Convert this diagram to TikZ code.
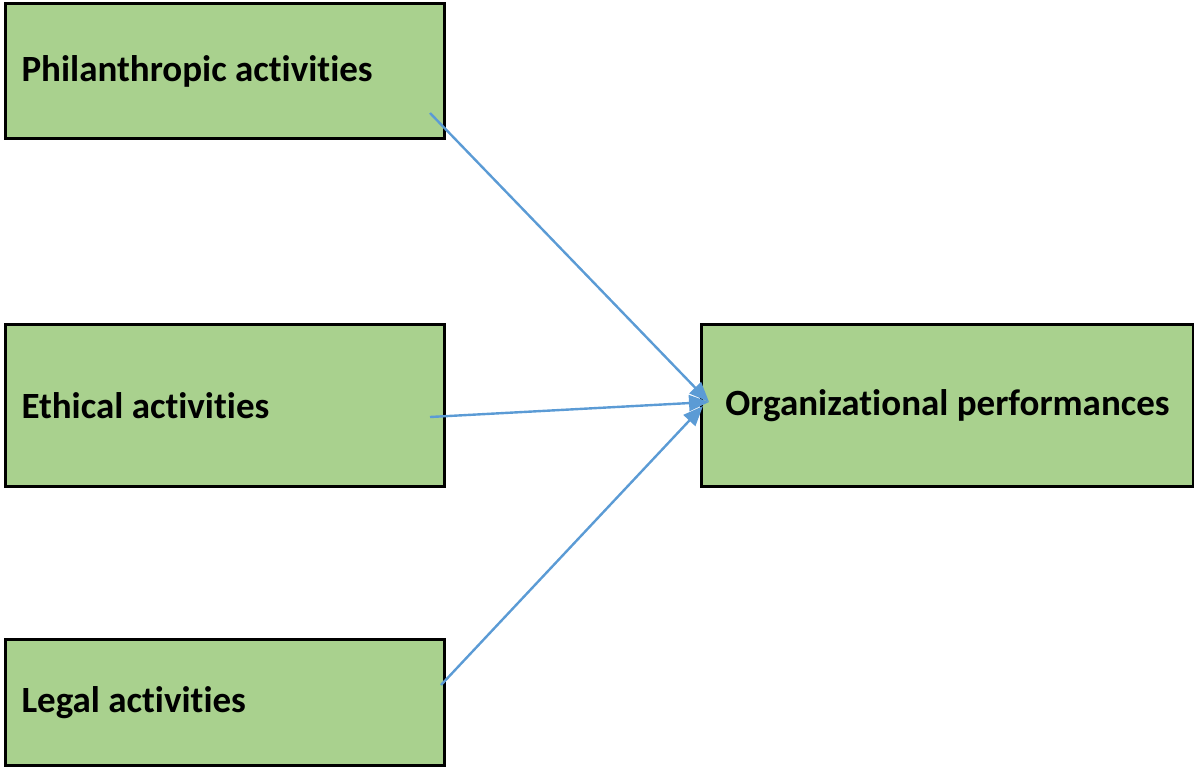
\documentclass[tikz,border=0pt]{standalone}
\usepackage{fontspec}
\setmainfont{Carlito}[Ligatures=NoCommon]
\usetikzlibrary{arrows.meta}
\definecolor{boxgreen}{HTML}{A9D18E}
\definecolor{arrowblue}{HTML}{5B9BD5}
\begin{document}
\begin{tikzpicture}[x=0.5pt, y=-0.5pt, every node/.style={draw=black, fill=boxgreen, line width=1.5pt, font=\fontsize{18.5}{22}\selectfont\bfseries, inner sep=8pt}, cause/.style={anchor=north west, minimum width=219.5pt, text width=203.5pt, align=flush left}, link/.style={draw=arrowblue, line width=1.2pt, -{Triangle[length=10pt, width=8pt]}}]
	\useasboundingbox (0,0) rectangle (1194,766);
	\node[cause, minimum height=67.5pt](phil) at (4,2){Philanthropic activities};
	\node[cause, minimum height=81pt](eth) at (4,323){Ethical activities};
	\node[cause, minimum height=63pt](legal) at (4,638){Legal activities};
	\node[anchor=north west, minimum width=246pt, minimum height=81pt, align=center](org) at (700,323){Organizational performances};
	% arrow ends
	\coordinate(p1) at (430,113);
	\coordinate(e1) at (430,417);
	\coordinate(l1) at (441,685);
	\coordinate(o1) at (709,402);
	\coordinate(o2) at (703,406);
	\draw[link] (p1) -- (o1);
	\draw[link] (e1) -- (o1);
	\draw[link] (l1) -- (o2);
\end{tikzpicture}
\end{document}
